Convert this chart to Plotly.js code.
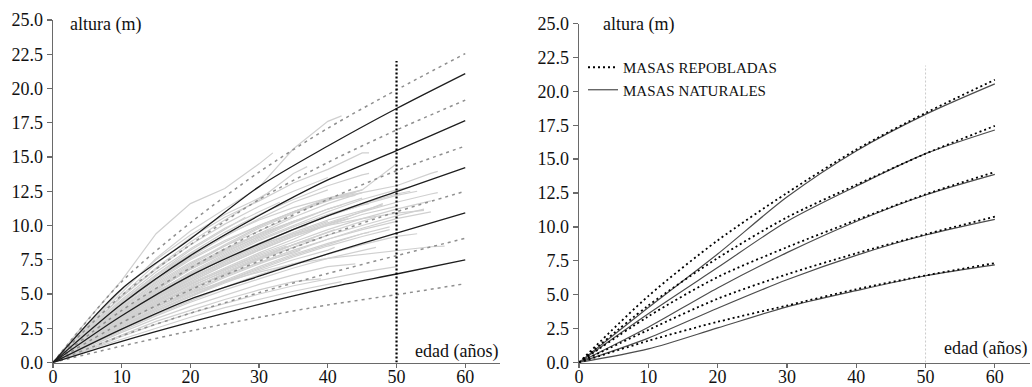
<!DOCTYPE html>
<html><head><meta charset="utf-8">
<script src="https://cdn.plot.ly/plotly-3.0.1.min.js"></script>
<style>html,body{margin:0;padding:0;background:#fff}#chart{width:1032px;height:387px}</style>
</head><body><div id="chart"></div>
<script>
// ---------- DATA ----------
const edades = [0, 10, 20, 30, 40, 50, 60];
const edadTicks = [0, 10, 20, 30, 40, 50, 60];
const alturaTicks = [0, 2.5, 5, 7.5, 10, 12.5, 15, 17.5, 20, 22.5, 25];
const edadReferencia = [50, 50];
const alturaReferencia = [0, 22];
const alturaReferencia2 = [0, 21.9];

// Left panel: fitted model (black solid)
const modeloI   = [0, 5.37, 9.02, 12.84, 15.80, 18.54, 21.09];
const modeloII  = [0, 4.27, 7.80, 10.73, 13.33, 15.46, 17.65];
const modeloIII = [0, 3.41, 6.34, 8.66, 10.70, 12.48, 14.22];
const modeloIV  = [0, 2.44, 4.63, 6.30, 7.93, 9.44, 10.93];
const modeloV   = [0, 1.55, 2.95, 4.25, 5.45, 6.46, 7.49];

// Left panel: previous curves (grey dotted)
const previaI   = [0, 5.9, 10.2, 13.9, 17.1, 19.9, 22.55];
const previaII  = [0, 4.9, 8.6, 11.9, 14.6, 16.97, 19.15];
const previaIII = [0, 3.8, 6.9, 9.6, 11.9, 14.0, 15.8];
const previaIV  = [0, 2.9, 5.3, 7.4, 9.3, 11.0, 12.5];
const previaV   = [0, 1.95, 3.6, 5.1, 6.5, 7.8, 9.07];
const previaVI  = [0, 1.2, 2.3, 3.3, 4.2, 4.95, 5.75];

// Left panel: stem-analysis profiles (heights every 5 years, last point at final age)
const perfilFin = [32,42,46,37,50,56,54,57,40,45,38,52,48,43,55,36,50,46,41,53,47,44,39,50,42,35,44,33,40,48,37,54,45,31,49,52,28,34,56,46,
                   45,40,50,35,47,42,55,38,44,49,30,36,53,41,46];
const perfiles = [
  [0,3.1,6.0,9.4,11.6,12.7,14.5,15.3],
  [0,2.6,5.1,7.6,9.6,11.2,12.8,15.6,17.6,18.0],
  [0,2.4,4.9,7.2,9.1,10.6,11.8,13.1,14.1,15.3,15.3],
  [0,2.5,4.8,6.9,8.8,10.4,11.9,13.8,14.3],
  [0,2.2,4.3,6.3,7.9,9.3,10.4,11.3,12.0,12.6,14.5],
  [0,2.1,4.2,6.0,7.6,8.9,10.0,11.0,11.9,12.4,12.9,13.8,13.95],
  [0,1.8,3.6,5.2,6.5,7.6,8.6,9.4,10.0,10.5,10.9,11.1],
  [0,1.5,2.9,4.1,5.1,5.9,6.6,7.2,7.6,7.9,8.2,8.45,8.5],
  [0,2.2,4.3,6.1,7.7,9.2,10.5,11.7,12.6],
  [0,2.0,3.9,5.6,7.1,8.5,9.8,10.9,11.8,12.6],
  [0,1.9,3.7,5.3,6.8,8.0,9.2,10.3,10.8],
  [0,1.8,3.5,5.0,6.4,7.7,8.9,9.9,10.8,11.6,12.3,12.5],
  [0,1.6,3.3,4.8,6.2,7.4,8.5,9.5,10.4,11.1,11.5],
  [0,1.7,3.3,4.7,5.9,7.1,8.2,9.2,10.1,10.5],
  [0,1.5,3.0,4.4,5.7,6.8,7.9,8.8,9.7,10.5,11.2,11.8],
  [0,1.6,3.1,4.4,5.6,6.6,7.6,8.4,8.6],
  [0,1.4,2.8,4.1,5.2,6.3,7.3,8.2,9.0,9.7,10.3],
  [0,1.4,2.7,3.9,5.0,6.0,7.0,7.9,8.7,9.4,9.5],
  [0,1.3,2.6,3.8,4.8,5.8,6.7,7.5,8.2,8.4],
  [0,1.2,2.4,3.5,4.5,5.5,6.4,7.2,7.9,8.6,9.2,9.4],
  [0,1.2,2.3,3.4,4.4,5.3,6.1,6.9,7.6,8.2,8.4],
  [0,1.1,2.2,3.2,4.1,4.9,5.7,6.4,7.0,7.2],
  [0,1.0,2.0,3.0,3.8,4.6,5.3,5.9,6.1],
  [0,0.9,1.9,2.8,3.6,4.3,5.0,5.6,6.1,6.6,7.0],
  [0,0.9,1.7,2.5,3.3,4.0,4.6,5.2,5.7,5.9],
  [0,2.1,4.1,5.8,7.3,8.5,9.6,10.7],
  [0,2.0,4.0,5.9,7.5,8.8,10.0,11.0,12.0,12.4],
  [0,2.4,4.6,6.6,8.3,9.8,11.0,11.7],
  [0,2.5,4.8,6.8,8.6,10.1,11.4,12.5,13.5],
  [0,1.6,3.2,4.6,5.8,6.9,8.0,9.0,10.1,11.0,11.6],
  [0,1.7,3.4,4.9,6.3,7.6,8.7,9.7,10.0],
  [0,1.4,2.8,4.2,5.4,6.5,7.5,8.4,9.3,10.0,10.7,11.2],
  [0,1.9,3.7,5.3,6.9,8.2,9.4,10.6,11.6,12.4],
  [0,2.7,5.3,7.5,9.3,10.8,12.0,12.3],
  [0,1.3,2.6,3.8,4.9,5.9,6.8,7.7,8.5,9.2,9.7],
  [0,1.9,3.6,5.1,6.5,7.8,9.0,10.0,11.0,11.9,12.6,12.8],
  [0,2.2,4.4,6.4,8.2,9.7,10.6],
  [0,1.5,3.1,4.5,5.7,6.8,7.8,8.5],
  [0,1.6,3.2,4.7,6.0,7.2,8.3,9.3,10.2,11.0,11.7,12.3,12.4],
  [0,2.3,4.5,6.4,8.0,9.5,10.8,11.9,12.9,13.7,13.8],
  [0,1.8,3.5,5.1,6.6,7.9,9.1,10.2,11.2,12.0],
  [0,1.7,3.3,4.8,6.1,7.3,8.4,9.4,10.3],
  [0,1.5,3.1,4.5,5.9,7.1,8.2,9.2,10.0,10.8,11.4],
  [0,1.9,3.8,5.5,7.0,8.3,9.4,10.3],
  [0,1.3,2.7,4.0,5.3,6.5,7.6,8.6,9.5,10.3,10.6],
  [0,2.0,3.8,5.4,6.9,8.2,9.3,10.3,11.2,11.5],
  [0,1.3,2.6,3.9,5.1,6.2,7.2,8.1,9.0,9.8,10.5,11.0],
  [0,1.4,2.9,4.3,5.5,6.7,7.7,8.6,9.0],
  [0,2.1,4.0,5.7,7.2,8.6,9.9,11.0,11.9,12.2],
  [0,1.2,2.5,3.7,4.8,5.9,6.9,7.8,8.6,9.4,9.9],
  [0,1.8,3.6,5.3,6.8,8.1,9.2],
  [0,1.6,3.0,4.3,5.4,6.4,7.3,8.0,8.2],
  [0,1.7,3.4,4.9,6.3,7.6,8.7,9.7,10.7,11.5,12.2,12.5],
  [0,1.5,2.9,4.2,5.4,6.5,7.6,8.6,9.5,9.7],
  [0,1.6,3.2,4.7,6.1,7.4,8.6,9.7,10.7,11.5,11.6]
];

// Right panel: MASAS REPOBLADAS (dashed) and MASAS NATURALES (solid)
const repobladasI   = [0, 4.9, 9.0, 12.5, 15.7, 18.4, 20.85];
const repobladasII  = [0, 4.2, 7.7, 10.7, 13.1, 15.4, 17.45];
const repobladasIII = [0, 3.4, 6.3, 8.5, 10.5, 12.4, 14.05];
const repobladasIV  = [0, 2.4, 4.7, 6.5, 8.05, 9.45, 10.75];
const repobladasV   = [0, 1.6, 3.0, 4.2, 5.4, 6.42, 7.33];
const naturalesI    = [0, 4.05, 8.0, 12.2, 15.6, 18.3, 20.55];
const naturalesII   = [0, 3.6, 7.0, 10.4, 13.0, 15.4, 17.15];
const naturalesIII  = [0, 2.6, 5.5, 8.1, 10.4, 12.35, 13.87];
const naturalesIV   = [0, 1.8, 4.0, 6.1, 7.9, 9.4, 10.56];
const naturalesV    = [0, 1.0, 2.55, 4.1, 5.3, 6.4, 7.2];

// ---------- STYLE / BUILD ----------
const FONT = 'Liberation Serif';
const traces = [];

perfiles.forEach((h, i) => {
  const fin = perfilFin[i];
  const x = h.map((_, j) => (j === h.length - 1 ? fin : j * 5));
  traces.push({x, y: h, xaxis: 'x', yaxis: 'y', mode: 'lines', showlegend: false, hoverinfo: 'skip',
    line: {color: '#d0d0d0', width: 1.2}});
});
[previaI, previaII, previaIII, previaIV, previaV, previaVI].forEach(v => {
  traces.push({x: edades, y: v, xaxis: 'x', yaxis: 'y', mode: 'lines', showlegend: false,
    line: {color: '#8f8f8f', width: 1.5, dash: '3px,4px', shape: 'spline', smoothing: 0.8}});
});
[modeloI, modeloII, modeloIII, modeloIV, modeloV].forEach(v => {
  traces.push({x: edades, y: v, xaxis: 'x', yaxis: 'y', mode: 'lines', showlegend: false,
    line: {color: '#1e1e1e', width: 1.3, shape: 'spline', smoothing: 0.8}});
});
traces.push({x: edadReferencia, y: alturaReferencia, xaxis: 'x', yaxis: 'y', mode: 'lines', showlegend: false,
  line: {color: '#000', width: 2.2, dash: '2px,2px'}});

traces.push({x: edadReferencia, y: alturaReferencia2, xaxis: 'x2', yaxis: 'y2', mode: 'lines', showlegend: false,
  line: {color: '#bdbdbd', width: 0.8, dash: '2px,2px'}});
[naturalesI, naturalesII, naturalesIII, naturalesIV, naturalesV].forEach((v, i) => {
  traces.push({x: edades, y: v, xaxis: 'x2', yaxis: 'y2', mode: 'lines', name: 'MASAS NATURALES',
    legendgroup: 'nat', showlegend: i === 0, legendrank: 2,
    line: {color: '#4d4d4d', width: 1.2, shape: 'spline', smoothing: 0.8}});
});
[repobladasI, repobladasII, repobladasIII, repobladasIV, repobladasV].forEach((v, i) => {
  traces.push({x: edades, y: v, xaxis: 'x2', yaxis: 'y2', mode: 'lines', name: 'MASAS REPOBLADAS',
    legendgroup: 'rep', showlegend: i === 0, legendrank: 1,
    line: {color: '#000', width: 1.8, dash: '2px,3px', shape: 'spline', smoothing: 0.8}});
});

const axisBase = {
  showgrid: false, zeroline: false, showline: true, linecolor: '#6a6a6a', linewidth: 1.3,
  ticks: 'outside', ticklen: 5, tickwidth: 1.3, tickcolor: '#6a6a6a',
  tickfont: {family: FONT, size: 18, color: '#111'}, fixedrange: true
};
const xBase = Object.assign({}, axisBase, {ticklen: 4, ticklabelstandoff: -6, tickfont: {family: FONT, size: 18, color: '#111'}});
const W = 1032, H = 387;
const layout = {
  width: W, height: H, margin: {l: 0, r: 0, t: 0, b: 0},
  paper_bgcolor: '#fff', plot_bgcolor: '#fff',
  font: {family: FONT, color: '#111'},
  showlegend: true,
  legend: {x: 583 / W, y: 1 - 51 / H, xanchor: 'left', yanchor: 'top', bgcolor: 'rgba(0,0,0,0)',
    font: {family: FONT, size: 15, color: '#111'}, itemwidth: 30, tracegroupgap: 0, traceorder: 'normal'},
  xaxis: Object.assign({}, xBase, {domain: [53 / W, 499.6 / W], range: [0, 65], tickvals: edadTicks, anchor: 'y'}),
  yaxis: Object.assign({}, axisBase, {domain: [(H - 362.5) / H, (H - 20) / H], range: [0, 25], tickvals: alturaTicks, tickformat: '.1f', anchor: 'x'}),
  xaxis2: Object.assign({}, xBase, {domain: [579 / W, 1029.5 / W], range: [0, 65], tickvals: edadTicks, anchor: 'y2'}),
  yaxis2: Object.assign({}, axisBase, {domain: [(H - 362.5) / H, (H - 23.5) / H], range: [0, 25], tickvals: alturaTicks, tickformat: '.1f', anchor: 'x2'}),
  annotations: [
    {text: 'altura (m)', xref: 'paper', yref: 'paper', x: 68 / W, y: 1 - 25 / H, xanchor: 'left', yanchor: 'middle', showarrow: false, font: {family: FONT, size: 18, color: '#111'}},
    {text: 'altura (m)', xref: 'paper', yref: 'paper', x: 601 / W, y: 1 - 25 / H, xanchor: 'left', yanchor: 'middle', showarrow: false, font: {family: FONT, size: 18, color: '#111'}},
    {text: 'edad (años)', xref: 'paper', yref: 'paper', x: 500 / W, y: 1 - 351 / H, xanchor: 'right', yanchor: 'middle', showarrow: false, font: {family: FONT, size: 18, color: '#111'}},
    {text: 'edad (años)', xref: 'paper', yref: 'paper', x: 1029 / W, y: 1 - 348 / H, xanchor: 'right', yanchor: 'middle', showarrow: false, font: {family: FONT, size: 18, color: '#111'}}
  ]
};
Plotly.newPlot('chart', traces, layout, {displayModeBar: false, staticPlot: true});
</script>
</body></html>
